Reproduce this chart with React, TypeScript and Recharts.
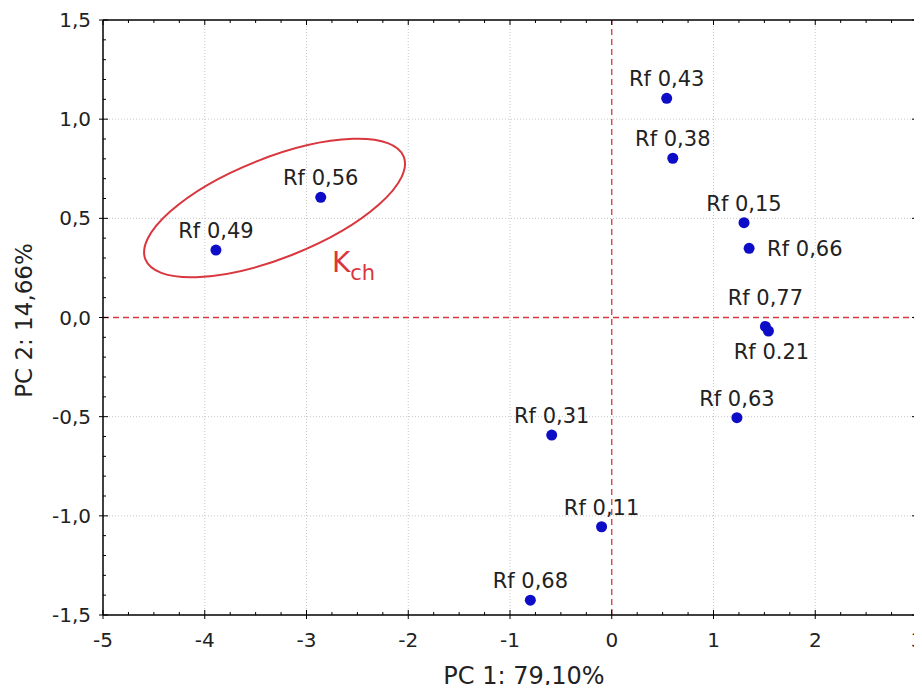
import React from 'react';
import { ScatterChart, Scatter, XAxis, YAxis, ReferenceLine, ReferenceDot, Label } from 'recharts';

// ---- data ----
const names = ['Rf 0,43', 'Rf 0,38', 'Rf 0,15', 'Rf 0,66', 'Rf 0,77', 'Rf 0.21', 'Rf 0,63', 'Rf 0,31', 'Rf 0,11', 'Rf 0,68', 'Rf 0,56', 'Rf 0,49'];
const pc1 = [0.54, 0.6, 1.3, 1.35, 1.51, 1.54, 1.23, -0.59, -0.1, -0.8, -2.86, -3.89];
const pc2 = [1.105, 0.803, 0.478, 0.349, -0.045, -0.068, -0.505, -0.593, -1.055, -1.425, 0.606, 0.34];

const xMajor = [-5, -4, -3, -2, -1, 0, 1, 2, 3];
const yMajor = [-1.5, -1, -0.5, 0, 0.5, 1, 1.5];
const xGrid = [-4, -3, -2, -1, 1, 2];
const yGrid = [-1, -0.5, 0.5, 1];
const X_DOMAIN: [number, number] = [-5, 3];
const Y_DOMAIN: [number, number] = [-1.5, 1.5];

const groupName = 'K';
const groupSub = 'ch';
const groupCenter = { x: -3.314, y: 0.552 };
const groupLabelAt = { x: -2.75, y: 0.23 };
const xTitle = 'PC 1: 79,10%';
const yTitle = 'PC 2: 14,66%';

const data = names.map((name, i) => ({ name, x: pc1[i], y: pc2[i] }));

const xTicks: number[] = [];
for (let i = -20; i <= 12; i++) xTicks.push(i / 4);
const yTicks: number[] = [];
for (let i = -15; i <= 15; i++) yTicks.push(i / 10);

// ---- layout / styles ----
const CHART_W = 914;
const CHART_H = 685;
const MARGIN = { top: 12, right: 5, left: 0, bottom: 0 };
const Y_AXIS_W = 95;
const X_AXIS_H = 78;
const PLOT_W = CHART_W - MARGIN.left - MARGIN.right - Y_AXIS_W;
const PLOT_H = CHART_H - MARGIN.top - MARGIN.bottom - X_AXIS_H;

const FONT = '"DejaVu Sans", "Liberation Sans", Arial, sans-serif';
const RED = '#d9363e';
const BLUE = '#0d0dc8';
const TXT = '#222';

const labelPlacement: Record<string, { dx: number; dy: number; anchor: string }> = {
  'Rf 0,66': { dx: 18, dy: 8, anchor: 'start' },
  'Rf 0,77': { dx: 0, dy: -21, anchor: 'middle' },
  'Rf 0.21': { dx: 3, dy: 28, anchor: 'middle' },
};
const defaultPlacement = { dx: 0, dy: -12, anchor: 'middle' };

const isMajorX = (v: number) => xMajor.some((m) => Math.abs(m - v) < 1e-9);
const isMajorY = (v: number) => yMajor.some((m) => Math.abs(m - v) < 1e-9);
const fmtY = (v: number) => (Math.abs(v) < 1e-9 ? 0 : v).toFixed(1).replace('.', ',');

const XTick = (p: any) => {
  const v = p.payload.value;
  const major = isMajorX(v);
  return (
    <g>
      <line x1={p.x} x2={p.x} y1={p.y} y2={p.y - (major ? 5 : 3)} stroke="#000" strokeWidth={1} />
      {major && <line x1={p.x} x2={p.x} y1={p.y} y2={p.y + 4} stroke="#000" strokeWidth={1} />}
      {major && (
        <text x={p.x} y={p.y + 32} textAnchor="middle" fontSize={20} fontFamily={FONT} fill={TXT}>
          {String(v)}
        </text>
      )}
    </g>
  );
};

const YTick = (p: any) => {
  const v = p.payload.value;
  const major = isMajorY(v);
  return (
    <g>
      <line x1={p.x} x2={p.x + (major ? 5 : 3)} y1={p.y} y2={p.y} stroke="#000" strokeWidth={1} />
      {major && <line x1={p.x} x2={p.x - 4} y1={p.y} y2={p.y} stroke="#000" strokeWidth={1} />}
      {major && (
        <text x={p.x - 12} y={p.y + 7} textAnchor="end" fontSize={20} fontFamily={FONT} fill={TXT}>
          {fmtY(v)}
        </text>
      )}
    </g>
  );
};

const PointShape = (p: any) => {
  const name = p.payload?.name ?? '';
  const pl = labelPlacement[name] || defaultPlacement;
  return (
    <g>
      <circle cx={p.cx} cy={p.cy} r={5.5} fill={BLUE} />
      <text
        x={p.cx + pl.dx}
        y={p.cy + pl.dy}
        textAnchor={pl.anchor as any}
        fontSize={21}
        fontFamily={FONT}
        fill={TXT}
      >
        {name}
      </text>
    </g>
  );
};

const EllipseShape = (p: any) => (
  <ellipse
    cx={p.cx}
    cy={p.cy}
    rx={139}
    ry={50}
    transform={`rotate(-21.7 ${p.cx} ${p.cy})`}
    fill="none"
    stroke={RED}
    strokeWidth={2}
  />
);

const GroupLabelShape = (p: any) => (
  <text x={p.cx} y={p.cy} fill={RED} fontFamily={FONT}>
    <tspan fontSize={28}>{groupName}</tspan>
    <tspan fontSize={21} dy={8}>{groupSub}</tspan>
  </text>
);

const XTitle = (props: any) => {
  const vb = props.viewBox || {};
  return (
    <text x={vb.x + vb.width / 2 + 14} y={vb.y + 69} textAnchor="middle" fontSize={24} fontFamily={FONT} fill={TXT}>
      {xTitle}
    </text>
  );
};

const YTitle = (props: any) => {
  const vb = props.viewBox || {};
  const cx = vb.x + 24;
  const cy = vb.y + vb.height / 2 + 3;
  return (
    <text x={cx} y={cy} transform={`rotate(-90 ${cx} ${cy})`} textAnchor="middle" fontSize={23} fontFamily={FONT} fill={TXT}>
      {yTitle}
    </text>
  );
};

// Top and right frame of the plot box, with inward tick marks
const Frame = () => {
  const fx = (v: number) => ((v - X_DOMAIN[0]) / (X_DOMAIN[1] - X_DOMAIN[0])) * PLOT_W;
  const fy = (v: number) => ((Y_DOMAIN[1] - v) / (Y_DOMAIN[1] - Y_DOMAIN[0])) * PLOT_H;
  return (
    <svg
      width={PLOT_W + 2}
      height={PLOT_H + 2}
      style={{
        position: 'absolute',
        left: MARGIN.left + Y_AXIS_W,
        top: MARGIN.top,
        pointerEvents: 'none',
        overflow: 'visible',
      }}
    >
      <line x1={0} x2={PLOT_W} y1={0} y2={0} stroke="#000" strokeWidth={1.5} />
      <line x1={PLOT_W} x2={PLOT_W} y1={0} y2={PLOT_H} stroke="#000" strokeWidth={1.5} />
      {xTicks.map((v) => (
        <line key={'t' + v} x1={fx(v)} x2={fx(v)} y1={0} y2={isMajorX(v) ? 5 : 3} stroke="#000" strokeWidth={1} />
      ))}
      {yTicks.map((v) => (
        <line key={'r' + v} x1={PLOT_W} x2={PLOT_W - (isMajorY(v) ? 5 : 3)} y1={fy(v)} y2={fy(v)} stroke="#000" strokeWidth={1} />
      ))}
    </svg>
  );
};

export default function App() {
  return (
    <div style={{ position: 'relative', width: CHART_W, height: CHART_H, marginBottom: -8 }}>
      <ScatterChart width={CHART_W} height={CHART_H} margin={MARGIN} style={{ overflow: 'visible' }}>
        <XAxis
          type="number"
          dataKey="x"
          domain={X_DOMAIN}
          ticks={xTicks}
          interval={0}
          allowDataOverflow
          height={X_AXIS_H}
          tickSize={0}
          tickMargin={0}
          tickLine={false}
          tick={XTick}
          axisLine={{ stroke: '#000', strokeWidth: 1.5 }}
        >
          <Label content={XTitle} />
        </XAxis>
        <YAxis
          type="number"
          dataKey="y"
          domain={Y_DOMAIN}
          ticks={yTicks}
          interval={0}
          allowDataOverflow
          width={Y_AXIS_W}
          tickSize={0}
          tickMargin={0}
          tickLine={false}
          tick={YTick}
          axisLine={{ stroke: '#000', strokeWidth: 1.5 }}
        >
          <Label content={YTitle} />
        </YAxis>
        {xGrid.map((v) => (
          <ReferenceLine key={'gx' + v} x={v} stroke="#c8c8c8" strokeDasharray="1 2" />
        ))}
        {yGrid.map((v) => (
          <ReferenceLine key={'gy' + v} y={v} stroke="#c8c8c8" strokeDasharray="1 2" />
        ))}
        <ReferenceLine x={0} stroke={RED} strokeWidth={1.3} strokeDasharray="6 4" />
        <ReferenceLine y={0} stroke={RED} strokeWidth={1.3} strokeDasharray="6 4" />
        <ReferenceDot x={groupCenter.x} y={groupCenter.y} r={0} shape={EllipseShape} />
        <ReferenceDot x={groupLabelAt.x} y={groupLabelAt.y} r={0} shape={GroupLabelShape} />
        <Scatter data={data} shape={PointShape} isAnimationActive={false} />
      </ScatterChart>
      <Frame />
    </div>
  );
}
